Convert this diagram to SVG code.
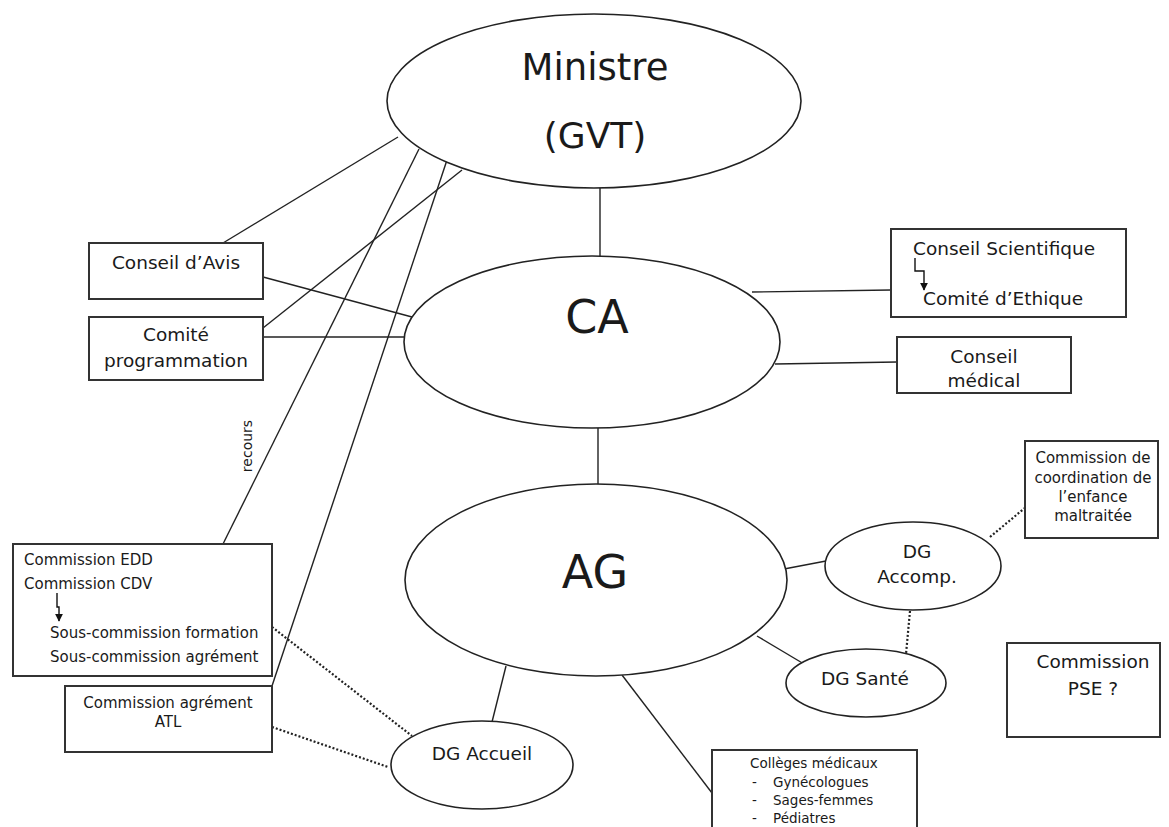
<svg xmlns="http://www.w3.org/2000/svg" width="1169" height="827" viewBox="0 0 1169 827">
<style>
  .bg{fill:#ffffff}
  .el{fill:#ffffff;stroke:#222;stroke-width:1.6}
  .bx{fill:#ffffff;stroke:#333;stroke-width:2}
  .ln{stroke:#222;stroke-width:1.4;fill:none}
  .dot{stroke:#222;stroke-width:2.2;fill:none;stroke-dasharray:2 2}
  .arr{stroke:#111;stroke-width:1.4;fill:none;marker-end:url(#ah)}
  text{font-family:"DejaVu Sans","Liberation Sans",sans-serif;fill:#1a1a1a}
  .c{text-anchor:middle}
</style>
<defs>
  <marker id="ah" viewBox="0 0 10 10" refX="9" refY="5" markerWidth="8" markerHeight="8" markerUnits="userSpaceOnUse" orient="auto">
    <path d="M0,0 L10,5 L0,10 z" fill="#111"/>
  </marker>
</defs>
<rect class="bg" x="0" y="0" width="1169" height="827"/>

<g id="connectors">
  <line class="ln" x1="398" y1="137" x2="223" y2="243"/>
  <line class="ln" x1="419" y1="149" x2="223" y2="544"/>
  <line class="ln" x1="462" y1="170" x2="263" y2="328"/>
  <line class="ln" x1="447" y1="160" x2="272" y2="686"/>
  <line class="ln" x1="600" y1="188" x2="600" y2="257"/>
  <line class="ln" x1="263" y1="277" x2="412" y2="317"/>
  <line class="ln" x1="263" y1="337" x2="405" y2="337"/>
  <line class="ln" x1="752" y1="292" x2="891" y2="290"/>
  <line class="ln" x1="775" y1="364" x2="897" y2="362"/>
  <line class="ln" x1="598" y1="428" x2="598" y2="484"/>
  <line class="ln" x1="784" y1="569" x2="826" y2="561"/>
  <line class="ln" x1="757" y1="636" x2="804" y2="664"/>
  <line class="ln" x1="506" y1="666" x2="492" y2="722"/>
  <line class="ln" x1="622" y1="675" x2="712" y2="793"/>
  <line class="dot" x1="990" y1="537" x2="1026" y2="507"/>
  <line class="dot" x1="910" y1="611" x2="906" y2="654"/>
  <line class="dot" x1="272" y1="627" x2="412" y2="736"/>
  <line class="dot" x1="272" y1="727" x2="388" y2="767"/>
  <text x="252" y="446" class="c" font-size="14" transform="rotate(-90 252 446)">recours</text>
</g>

<g id="ministre">
  <ellipse class="el" cx="594" cy="101" rx="207" ry="87"/>
  <text x="595" y="80" class="c" font-size="37">Ministre</text>
  <text x="595" y="148" class="c" font-size="36">(GVT)</text>
</g>

<g id="ca">
  <ellipse class="el" cx="592" cy="342" rx="188" ry="86"/>
  <text x="597" y="333" class="c" font-size="46">CA</text>
</g>

<g id="ag">
  <ellipse class="el" cx="596" cy="580" rx="191" ry="96"/>
  <text x="595" y="588" class="c" font-size="46">AG</text>
</g>

<g id="conseil-avis">
  <rect class="bx" x="89" y="243" width="174" height="56"/>
  <text x="176" y="269" class="c" font-size="18.5">Conseil d’Avis</text>
</g>

<g id="comite-programmation">
  <rect class="bx" x="89" y="317" width="174" height="63"/>
  <text x="176" y="341" class="c" font-size="18.5">Comité</text>
  <text x="176" y="367" class="c" font-size="18.5">programmation</text>
</g>

<g id="conseil-scientifique">
  <rect class="bx" x="891" y="229" width="235" height="88"/>
  <text x="913" y="255" font-size="18.5">Conseil Scientifique</text>
  <path class="arr" d="M915 258 V271 H924 V290"/>
  <text x="923" y="305" font-size="18.5">Comité d’Ethique</text>
</g>

<g id="conseil-medical">
  <rect class="bx" x="897" y="337" width="174" height="56"/>
  <text x="984" y="363" class="c" font-size="18.5">Conseil</text>
  <text x="984" y="387" class="c" font-size="18.5">médical</text>
</g>

<g id="commission-coordination">
  <rect class="bx" x="1025" y="441" width="133" height="97"/>
  <text x="1093" y="463" class="c" font-size="15">Commission de</text>
  <text x="1093" y="483" class="c" font-size="15">coordination de</text>
  <text x="1093" y="502" class="c" font-size="15">l’enfance</text>
  <text x="1093" y="521" class="c" font-size="15">maltraitée</text>
</g>

<g id="dg-accomp">
  <ellipse class="el" cx="913" cy="566" rx="88" ry="44"/>
  <text x="917" y="558" class="c" font-size="18.5">DG</text>
  <text x="917" y="583" class="c" font-size="18.5">Accomp.</text>
</g>

<g id="dg-sante">
  <ellipse class="el" cx="866" cy="683" rx="80" ry="34"/>
  <text x="865" y="685" class="c" font-size="18.5">DG Santé</text>
</g>

<g id="commission-pse">
  <rect class="bx" x="1007" y="643" width="153" height="94"/>
  <text x="1093" y="668" class="c" font-size="18.5">Commission</text>
  <text x="1093" y="695" class="c" font-size="18.5">PSE ?</text>
</g>

<g id="commission-edd">
  <rect class="bx" x="13" y="544" width="259" height="132"/>
  <text x="24" y="565" font-size="15">Commission EDD</text>
  <text x="24" y="589" font-size="15">Commission CDV</text>
  <path class="arr" d="M57 593 V607 H59 V621"/>
  <text x="50" y="638" font-size="15">Sous-commission formation</text>
  <text x="50" y="662" font-size="15">Sous-commission agrément</text>
</g>

<g id="commission-atl">
  <rect class="bx" x="65" y="686" width="207" height="66"/>
  <text x="168" y="708" class="c" font-size="15">Commission agrément</text>
  <text x="168" y="727" class="c" font-size="15">ATL</text>
</g>

<g id="dg-accueil">
  <ellipse class="el" cx="482" cy="765" rx="91" ry="44"/>
  <text x="482" y="760" class="c" font-size="18.5">DG Accueil</text>
</g>

<g id="colleges">
  <rect class="bx" x="712" y="750" width="205" height="90"/>
  <text x="750" y="768" font-size="13.5">Collèges médicaux</text>
  <text x="752" y="787" font-size="13.5">-</text>
  <text x="773" y="787" font-size="13.5">Gynécologues</text>
  <text x="752" y="805" font-size="13.5">-</text>
  <text x="773" y="805" font-size="13.5">Sages-femmes</text>
  <text x="752" y="823" font-size="13.5">-</text>
  <text x="773" y="823" font-size="13.5">Pédiatres</text>
</g>
</svg>
